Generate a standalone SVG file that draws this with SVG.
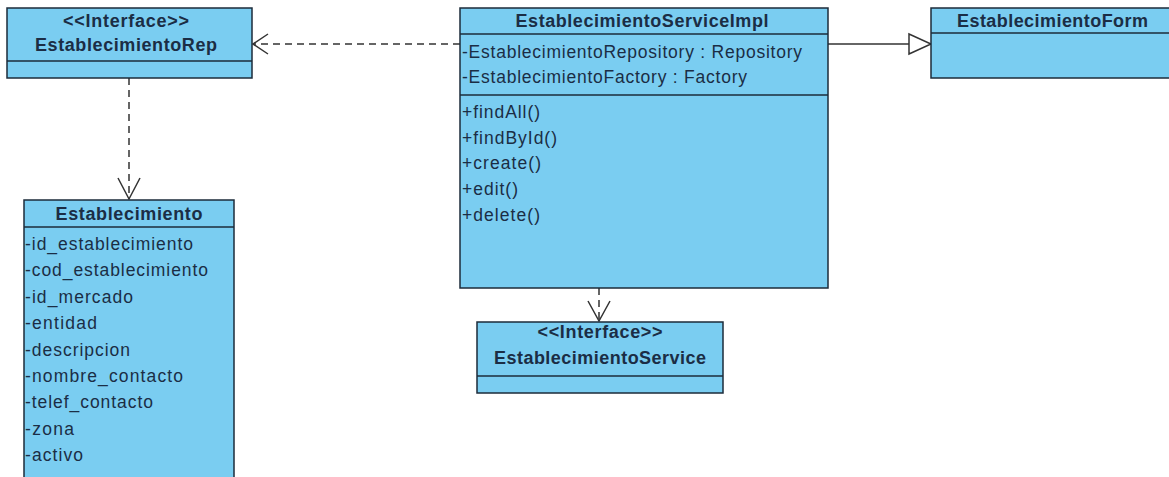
<svg xmlns="http://www.w3.org/2000/svg" width="1169" height="477" viewBox="0 0 1169 477">
<style>
.box{fill:#7ACDF1;stroke:#1C2B3A;stroke-width:1.5}
.div{stroke:#1C2B3A;stroke-width:1.5}
.t{font-family:"Liberation Sans",Arial,sans-serif;font-size:17.5px;fill:#1B2D45}
.b{font-family:"Liberation Sans",Arial,sans-serif;font-size:18px;font-weight:bold;fill:#1B2D45}
.c{text-anchor:middle}
.con{stroke:#333;stroke-width:1.5;fill:none}
.dash{stroke-dasharray:7,5}
</style>
<rect width="1169" height="477" fill="#ffffff"/>
<g id="connectors">
  <line class="con dash" x1="460" y1="44" x2="253" y2="44"/>
  <polyline class="con" points="268,34 253,44 268,54"/>
  <line class="con" x1="828" y1="44" x2="909" y2="44"/>
  <polygon points="909,34 931,44 909,54" fill="#ffffff" stroke="#333" stroke-width="1.5"/>
  <line class="con dash" x1="129" y1="78" x2="129" y2="199"/>
  <polyline class="con" points="118,178 129,199 140,178"/>
  <line class="con dash" x1="599" y1="288" x2="599" y2="321"/>
  <polyline class="con" points="588,301 599,321 610,301"/>
</g>
<g id="EstablecimientoRep">
  <rect class="box" x="7" y="8" width="245" height="70"/>
  <line class="div" x1="7" y1="61" x2="252" y2="61"/>
  <text class="b c" x="126" y="27" textLength="126" lengthAdjust="spacing">&lt;&lt;Interface&gt;&gt;</text>
  <text class="b c" x="126" y="51" textLength="182" lengthAdjust="spacing">EstablecimientoRep</text>
</g>
<g id="EstablecimientoServiceImpl">
  <rect class="box" x="460" y="8" width="368" height="280"/>
  <line class="div" x1="460" y1="34" x2="828" y2="34"/>
  <line class="div" x1="460" y1="95" x2="828" y2="95"/>
  <text class="b c" x="642" y="27" textLength="253" lengthAdjust="spacing">EstablecimientoServiceImpl</text>
  <text class="t" x="462" y="58" textLength="340" lengthAdjust="spacing">-EstablecimientoRepository : Repository</text>
  <text class="t" x="462" y="83" textLength="285" lengthAdjust="spacing">-EstablecimientoFactory : Factory</text>
  <text class="t" x="462" y="118" textLength="78" lengthAdjust="spacing">+findAll()</text>
  <text class="t" x="462" y="144" textLength="95" lengthAdjust="spacing">+findById()</text>
  <text class="t" x="462" y="169" textLength="79" lengthAdjust="spacing">+create()</text>
  <text class="t" x="462" y="195" textLength="56" lengthAdjust="spacing">+edit()</text>
  <text class="t" x="462" y="221" textLength="78" lengthAdjust="spacing">+delete()</text>
</g>
<g id="EstablecimientoForm">
  <rect class="box" x="931" y="8" width="260" height="70"/>
  <line class="div" x1="931" y1="33" x2="1191" y2="33"/>
  <text class="b" x="957" y="27" textLength="191" lengthAdjust="spacing">EstablecimientoForm</text>
</g>
<g id="Establecimiento">
  <rect class="box" x="24" y="200" width="210" height="300"/>
  <line class="div" x1="24" y1="227" x2="234" y2="227"/>
  <text class="b c" x="129" y="220" textLength="147" lengthAdjust="spacing">Establecimiento</text>
  <text class="t" x="25" y="250" textLength="168" lengthAdjust="spacing">-id_establecimiento</text>
  <text class="t" x="25" y="276" textLength="183" lengthAdjust="spacing">-cod_establecimiento</text>
  <text class="t" x="25" y="303" textLength="108" lengthAdjust="spacing">-id_mercado</text>
  <text class="t" x="25" y="329" textLength="72" lengthAdjust="spacing">-entidad</text>
  <text class="t" x="25" y="356" textLength="105" lengthAdjust="spacing">-descripcion</text>
  <text class="t" x="25" y="382" textLength="158" lengthAdjust="spacing">-nombre_contacto</text>
  <text class="t" x="25" y="408" textLength="128" lengthAdjust="spacing">-telef_contacto</text>
  <text class="t" x="25" y="435" textLength="49" lengthAdjust="spacing">-zona</text>
  <text class="t" x="25" y="461" textLength="58" lengthAdjust="spacing">-activo</text>
</g>
<g id="EstablecimientoService">
  <rect class="box" x="477" y="322" width="246" height="71"/>
  <line class="div" x1="477" y1="376" x2="723" y2="376"/>
  <text class="b c" x="600" y="338" textLength="125" lengthAdjust="spacing">&lt;&lt;Interface&gt;&gt;</text>
  <text class="b c" x="600" y="364" textLength="212" lengthAdjust="spacing">EstablecimientoService</text>
</g>
</svg>
